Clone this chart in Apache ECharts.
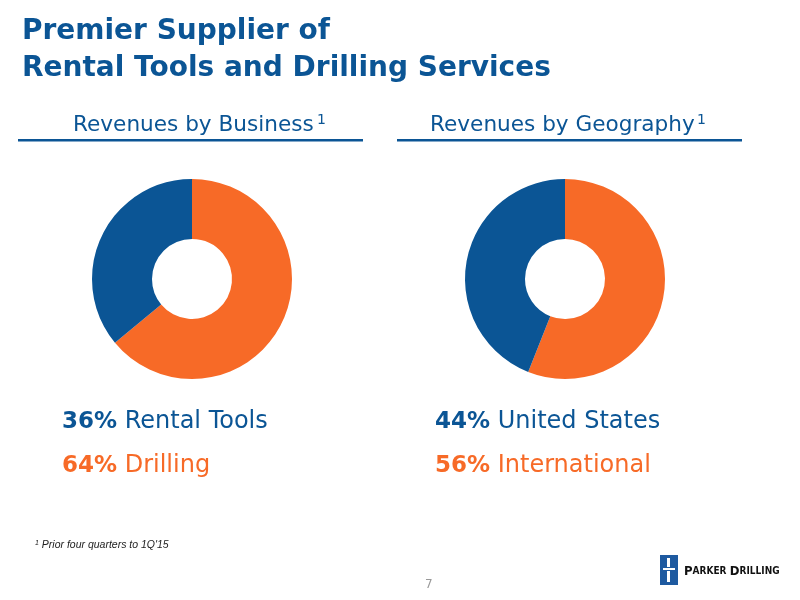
<!DOCTYPE html>
<html><head><meta charset="utf-8">
<script src="https://cdn.jsdelivr.net/npm/echarts@6/dist/echarts.min.js"></script>
<style>html,body{margin:0;padding:0;background:#fff}#c{width:800px;height:600px}</style>
</head><body><div id="c"></div>
<script>
const businessCategories = ['Drilling', 'Rental Tools'];
const businessValues = [64, 36];
const geoCategories = ['International', 'United States'];
const geoValues = [56, 44];
const BLUE = '#0B5595', ORANGE = '#F76A27';
const titleLines = ['Premier Supplier of', 'Rental Tools and Drilling Services'];
const subtitles = ['Revenues by Business', 'Revenues by Geography'];

const chart = echarts.init(document.getElementById('c'));
function pie(cx, cats, vals) {
  return {
    type: 'pie', center: [cx, 279], radius: [40, 100], startAngle: 90, clockwise: true,
    label: {show: false}, labelLine: {show: false}, silent: true, animation: false,
    itemStyle: {borderWidth: 0},
    data: cats.map((c, i) => ({name: c, value: vals[i], itemStyle: {color: i === 0 ? ORANGE : BLUE}}))
  };
}
const F = 'DejaVu Sans';
const FC = 'DejaVu Sans Condensed';
function legendText(x, y, val, name, color) {
  return {type: 'text', left: x, top: y, style: {
    text: '{b|' + val + '%}{n| ' + name + '}',
    rich: {b: {fontFamily: F, fontWeight: 'bold', fontSize: 23, fill: color, color: color},
           n: {fontFamily: F, fontSize: 24, fill: color, color: color}}
  }};
}
chart.setOption({
  animation: false,
  series: [pie(192, businessCategories, businessValues), pie(565, geoCategories, geoValues)],
  graphic: [
    {type: 'text', left: 22, top: 18, style: {text: titleLines[0], fontFamily: F, fontWeight: 'bold', fontSize: 28, fill: BLUE}},
    {type: 'text', left: 22, top: 55, style: {text: titleLines[1], fontFamily: F, fontWeight: 'bold', fontSize: 28, fill: BLUE}},
    {type: 'text', left: 73, top: 114, style: {text: subtitles[0], fontFamily: F, fontSize: 21.6, fill: BLUE}},
    {type: 'text', left: 317, top: 113, style: {text: '1', fontFamily: F, fontSize: 14, fill: BLUE}},
    {type: 'text', left: 430, top: 114, style: {text: subtitles[1], fontFamily: F, fontSize: 21.6, fill: BLUE}},
    {type: 'text', left: 697, top: 113, style: {text: '1', fontFamily: F, fontSize: 14, fill: BLUE}},
    {type: 'rect', shape: {x: 18, y: 139, width: 345, height: 2.5}, style: {fill: BLUE}},
    {type: 'rect', shape: {x: 397, y: 139, width: 345, height: 2.5}, style: {fill: BLUE}},
    legendText(62, 410, businessValues[1], businessCategories[1], BLUE),
    legendText(62, 454, businessValues[0], businessCategories[0], ORANGE),
    legendText(435, 410, geoValues[1], geoCategories[1], BLUE),
    legendText(435, 454, geoValues[0], geoCategories[0], ORANGE),
    {type: 'text', left: 35, top: 540, style: {text: '{s|1} Prior four quarters to 1Q\'15', rich: {
      s: {fontFamily: 'Liberation Sans', fontStyle: 'italic', fontSize: 7, fill: '#222', color: '#222', verticalAlign: 'top'}},
      fontFamily: 'Liberation Sans', fontStyle: 'italic', fontSize: 10.5, fill: '#222'}},
    {type: 'text', left: 425, top: 579, style: {text: '7', fontFamily: F, fontSize: 12, fill: '#999'}},
    {type: 'rect', shape: {x: 660, y: 555, width: 18, height: 30}, style: {fill: '#1E5AA0'}},
    {type: 'rect', shape: {x: 667, y: 558, width: 3, height: 9}, style: {fill: '#fff'}},
    {type: 'rect', shape: {x: 663, y: 568, width: 12, height: 2}, style: {fill: '#fff'}},
    {type: 'rect', shape: {x: 667, y: 571, width: 3, height: 11}, style: {fill: '#fff'}},
    {type: 'text', left: 684, top: 565, style: {text: '{a|P}{b|ARKER} {a|D}{b|RILLING}', rich: {
      a: {fontFamily: FC, fontWeight: 'bold', fontSize: 13, fill: '#111', color: '#111'},
      b: {fontFamily: FC, fontWeight: 'bold', fontSize: 10, fill: '#111', color: '#111'}}}}
  ]
});
</script></body></html>
